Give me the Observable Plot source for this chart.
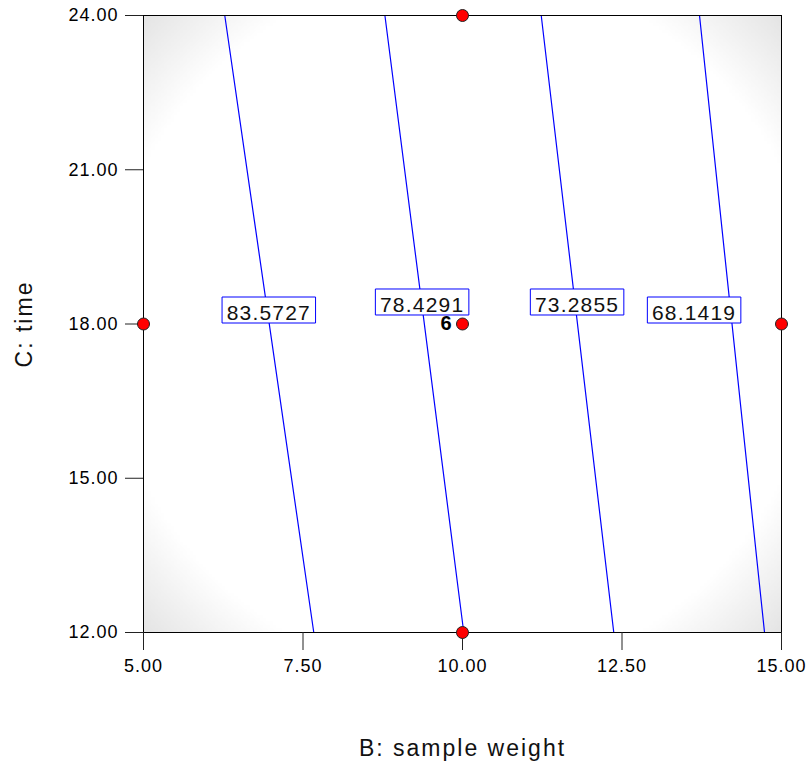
<!DOCTYPE html>
<html><head><meta charset="utf-8">
<script src="https://cdn.jsdelivr.net/npm/d3@7"></script>
<script src="https://cdn.jsdelivr.net/npm/@observablehq/plot@0.6"></script>
<style>
html,body{margin:0;padding:0;background:#fff}
</style></head><body><div id="chart"></div>
<script>
// Axis ticks
const xTicks = [5, 7.5, 10, 12.5, 15];
const yTicks = [12, 15, 18, 21, 24];
// Contour levels and where each line meets the bottom (C=12) and top (C=24) edges
const levels = ["83.5727", "78.4291", "73.2855", "68.1419"];
const lineBottomB = [7.669, 10.020, 12.371, 14.734];
const lineTopB = [6.274, 8.784, 11.234, 13.715];
// Contour label positions
const labelB = [6.964, 9.367, 11.796, 13.63];
const labelC = [18.204, 18.36, 18.36, 18.204];
// Design points
const pointB = [10, 5, 10, 15, 10];
const pointC = [24, 18, 18, 18, 12];
const pointLabel = ["", "", "6", "", ""];
// Axis titles
const xTitle = "B: sample weight";
const yTitle = "C: time";

const lineRows = levels.flatMap((lv, i) => [
  {level: lv, b: lineBottomB[i], c: 12},
  {level: lv, b: lineTopB[i], c: 24}
]);
const labelRows = levels.map((lv, i) => ({level: lv, b: labelB[i], c: labelC[i]}));
const pointRows = pointB.map((b, i) => ({b, c: pointC[i], label: pointLabel[i]}));

const boxSymbol = {draw(ctx) { ctx.rect(-46.75, -13, 93.5, 26); }};
const font = '"Liberation Sans", Arial, Helvetica, sans-serif';

const chart = Plot.plot({
  width: 809,
  height: 765,
  marginLeft: 143,
  marginRight: 28,
  marginTop: 15,
  marginBottom: 133,
  style: {fontFamily: font, background: "#fff", color: "#000"},
  x: {domain: [5, 15]},
  y: {domain: [12, 24]},
  color: {type: "linear", domain: [0, 1], range: ["#ffffff", "#e4e4e4"]},
  marks: [
    Plot.raster({
      x1: 5, x2: 15, y1: 12, y2: 24, width: 200, height: 194,
      fill: (x, y) => {
        const dx = (x - 10) * 63.8, dy = (y - 18) * 51.4;
        const r = Math.hypot(dx, dy);
        return Math.max(0, Math.min(1, (r - 355) / (444 - 355)));
      }
    }),
    Plot.line(lineRows, {x: "b", y: "c", z: "level", stroke: "#0000ff", strokeWidth: 1.2}),
    Plot.dot(labelRows, {x: "b", y: "c", symbol: boxSymbol, r: 5, fill: "white", stroke: "#0000ff", strokeWidth: 1, dy: -3.5}),
    Plot.text(labelRows, {x: "b", y: "c", text: "level", fontSize: 21, fill: "#111", lineAnchor: "middle"}),
    Plot.frame({stroke: "black", strokeWidth: 1}),
    Plot.axisX({ticks: xTicks, tickFormat: d => d.toFixed(2), tickSize: 18, tickPadding: 9, fontSize: 18, label: null, stroke: "#222"}),
    Plot.axisY({ticks: yTicks, tickFormat: d => d.toFixed(2), tickSize: 18, tickPadding: 7, fontSize: 18, label: null, stroke: "#222"}),
    Plot.dot(pointRows, {x: "b", y: "c", r: 6, fill: "#ff0000", stroke: "#222", strokeWidth: 1}),
    Plot.text(pointRows.filter(d => d.label), {x: "b", y: "c", text: "label", textAnchor: "end", dx: -11, fontSize: 20, fontWeight: "bold", lineAnchor: "middle"}),
    Plot.text([xTitle], {frameAnchor: "bottom", textAnchor: "middle", dy: 116, fontSize: 23, lineAnchor: "middle", fill: "#111"}),
    Plot.text([yTitle], {frameAnchor: "left", textAnchor: "middle", dx: -119, rotate: -90, fontSize: 23, lineAnchor: "middle", fill: "#111"})
  ]
});
chart.querySelectorAll("text").forEach(t => {
  const s = t.textContent;
  let ls = "1px";
  if (levels.includes(s)) ls = "1.2px";
  else if (s === xTitle || s === yTitle) ls = "2px";
  else if (pointLabel.includes(s) && s !== "") ls = "0px";
  t.style.letterSpacing = ls;
});
document.getElementById("chart").appendChild(chart);
</script>
</body></html>
